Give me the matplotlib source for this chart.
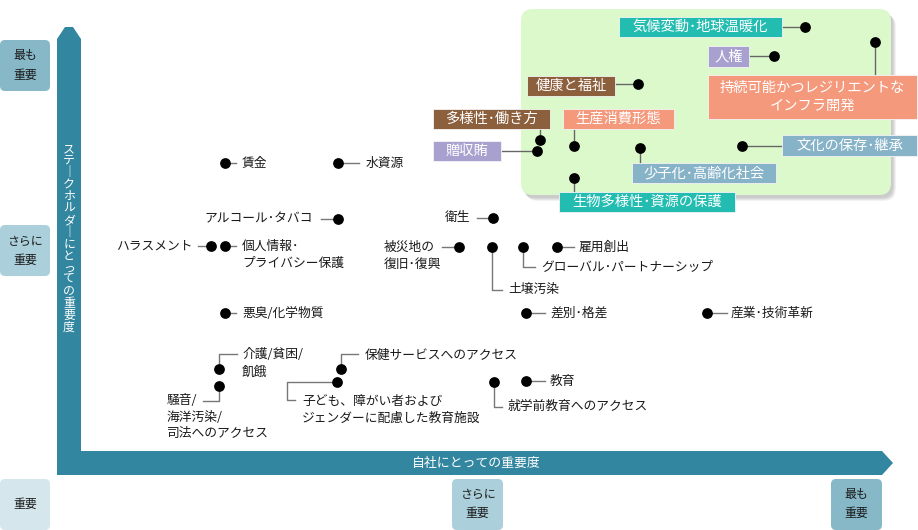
import matplotlib.pyplot as plt
from matplotlib.patches import FancyBboxPatch, Polygon, Rectangle

plt.rcParams['font.family'] = ['Noto Sans CJK JP', 'DejaVu Sans']

# 課題と位置(画像上のピクセル座標で読み取った値)
# company = 自社にとっての重要度(横), stakeholder = ステークホルダーにとっての重要度(縦)
names = [
    "賃金", "水資源", "アルコール･タバコ", "ハラスメント", "個人情報･\nプライバシー保護",
    "衛生", "被災地の\n復旧･復興", "土壌汚染", "グローバル･パートナーシップ", "雇用創出",
    "悪臭/化学物質", "差別･格差", "産業･技術革新", "介護/貧困/\n飢餓",
    "騒音/\n海洋汚染/\n司法へのアクセス", "保健サービスへのアクセス",
    "子ども、障がい者および\nジェンダーに配慮した教育施設", "就学前教育へのアクセス", "教育",
    "気候変動･地球温暖化", "人権", "持続可能かつレジリエントな\nインフラ開発", "健康と福祉",
    "多様性･働き方", "贈収賄", "生産消費形態", "少子化･高齢化社会", "文化の保存･継承",
    "生物多様性･資源の保護",
]
company = [225, 338, 338, 211, 225, 493, 459, 492, 523, 557, 225, 526, 707, 219,
           219, 341, 337, 494, 526, 805, 774, 875, 638, 540, 537, 574, 640, 742, 574]
stakeholder = [163, 163, 219, 246, 246, 218, 247, 247, 247, 247, 313, 313, 313, 369,
               386, 369, 382, 382, 381, 27, 56, 42, 84, 140, 151, 146, 148, 146, 178]
group = [None] * 19 + ["teal", "purple", "salmon", "brown", "brown", "purple",
                       "salmon", "blue", "blue", "teal"]

group_colors = {"teal": "#22bcb0", "purple": "#a8a0cf", "salmon": "#f5997c",
                "brown": "#8c5f3d", "blue": "#87b3c8"}

levels = ["最も\n重要", "さらに\n重要", "重要"]
level_colors = ["#87b8c7", "#abd0db", "#d5e7ed"]

# 通常の項目: 引き出し線(点からの相対), 文字位置, 揃え
plain_layout = {
    "賃金": ([(11, 0)], (17, 0), "left"),
    "水資源": ([(21, 0)], (28, 0), "left"),
    "アルコール･タバコ": ([(-17, 0)], (-25, 0), "right"),
    "ハラスメント": ([(-13, 0)], (-18, 0), "right"),
    "個人情報･\nプライバシー保護": ([(11, 0)], (17, 0), "left"),
    "衛生": ([(-16, 0)], (-23, 0), "right"),
    "被災地の\n復旧･復興": ([(-17, 0)], (-75, 0), "left"),
    "土壌汚染": ([(0, 43), (10, 43)], (16, 42), "left"),
    "グローバル･パートナーシップ": ([(0, 20), (12, 20)], (18, 20), "left"),
    "雇用創出": ([(17, 0)], (22, 0), "left"),
    "悪臭/化学物質": ([(11, 0)], (17, 0), "left"),
    "差別･格差": ([(19, 0)], (24, 0), "left"),
    "産業･技術革新": ([(20, 0)], (24, 0), "left"),
    "介護/貧困/\n飢餓": ([(0, -15), (18, -15)], (23, -14), "left"),
    "騒音/\n海洋汚染/\n司法へのアクセス": ([(0, 15), (-16, 15)], (-52, 15), "left"),
    "保健サービスへのアクセス": ([(0, -15), (17, -15)], (24, -14), "left"),
    "子ども、障がい者および\nジェンダーに配慮した教育施設": ([(-50, 0), (-50, 18), (-42, 18)], (-35, 19), "left"),
    "就学前教育へのアクセス": ([(0, 25), (8, 25)], (14, 24), "left"),
    "教育": ([(19, 0)], (24, 0), "left"),
}

# 色付き項目: 枠(点からの相対 x0, y0, x1, y1), 線の終点
box_layout = {
    "気候変動･地球温暖化": ((-186, -10, -23, 10), (-23, 0)),
    "人権": ((-66, -10, -25, 11), (-25, 0)),
    "持続可能かつレジリエントな\nインフラ開発": ((-167, 33, 42, 77), (0, 33)),
    "健康と福祉": ((-111, -8, -23, 12), (-23, 0)),
    "多様性･働き方": ((-107, -31, 10, -11), (0, -11)),
    "贈収賄": ((-104, -10, -36, 10), (-36, 0)),
    "生産消費形態": ((-11, -37, 100, -17), (0, -17)),
    "少子化･高齢化社会": ((-8, 15, 136, 35), (0, 15)),
    "文化の保存･継承": ((40, -11, 175, 10), (40, 0)),
    "生物多様性･資源の保護": ((-15, 14, 161, 34), (0, 14)),
}

fig = plt.figure(figsize=(9.18, 5.30), dpi=100)
ax = fig.add_axes([0, 0, 1, 1])
ax.set_xlim(0, 918)
ax.set_ylim(530, 0)
ax.axis("off")

teal = "#33869f"
txt = "#1a1a1a"

# 重点領域の背景(影付き)
for i in range(6):
    ax.add_patch(FancyBboxPatch((521 + 2 + i * 0.6, 9 + 3 + i * 0.6), 370, 186,
                                boxstyle="round,pad=0,rounding_size=12",
                                fc="#000000", ec="none", alpha=0.035, zorder=1))
ax.add_patch(FancyBboxPatch((521, 9), 370, 186, boxstyle="round,pad=0,rounding_size=12",
                            fc="#dcf9cb", ec="none", zorder=2))

# 軸の矢印
ax.add_patch(Polygon([(57, 475), (57, 39), (65, 27), (73, 27), (81, 39), (81, 451),
                      (882, 451), (893, 463), (882, 475)], closed=True,
                     fc=teal, ec="none", zorder=2))
ax.text(476, 463, "自社にとっての重要度", color="white", fontsize=9.3,
        ha="center", va="center", zorder=3)
vlabel = "ステークホルダーにとっての重要度"
for i, ch in enumerate(vlabel):
    ch = "｜" if ch == "ー" else ch
    ax.text(69, 143 + 11.9 * (i + 0.5), ch, color="white", fontsize=8.6,
            ha="center", va="center", zorder=3,
            fontweight="bold" if ch == "｜" else "normal")

# 目盛りの箱
left_y = [40, 225, 479]
bottom_x = [831, 452]
for lab, col, y0 in zip(levels, level_colors, left_y):
    ax.add_patch(FancyBboxPatch((0, y0), 50, 51, boxstyle="round,pad=0,rounding_size=5",
                                fc=col, ec="none", zorder=2))
    ax.text(25, y0 + 25.5, lab, fontsize=8.6, color=txt, ha="center", va="center",
            linespacing=1.6, zorder=3)
for lab, col, x0 in zip(levels[:2], level_colors[:2], bottom_x):
    ax.add_patch(FancyBboxPatch((x0, 479), 51, 51, boxstyle="round,pad=0,rounding_size=5",
                                fc=col, ec="none", zorder=2))
    ax.text(x0 + 25.5, 504, lab, fontsize=8.6, color=txt, ha="center", va="center",
            linespacing=1.6, zorder=3)


def draw_lines(x, y, text, ha, step, **kw):
    lines = text.split("\n")
    for k, line in enumerate(lines):
        ax.text(x, y + k * step, line, ha=ha, va="center", **kw)


for name, cx, cy, g in zip(names, company, stakeholder, group):
    if g is None:
        route, (tx, ty), ha = plain_layout[name]
        xs = [cx] + [cx + dx for dx, dy in route]
        ys = [cy] + [cy + dy for dx, dy in route]
        ax.plot(xs, ys, color="#777777", lw=1, zorder=3)
        step = 16.5 if name.count("\n") > 1 else 17.5
        draw_lines(cx + tx, cy + ty, name, ha, step, fontsize=9.2, color=txt, zorder=4)
    else:
        (x0, y0, x1, y1), (ex, ey) = box_layout[name]
        ax.plot([cx, cx + ex], [cy, cy + ey], color="#666666", lw=1, zorder=3)
        ax.add_patch(Rectangle((cx + x0, cy + y0), x1 - x0, y1 - y0,
                               fc=group_colors[g], ec="#f4f4f4", lw=0.6, zorder=4))
        nl = name.count("\n")
        ymid = cy + (y0 + y1) / 2 - nl * 9
        draw_lines(cx + (x0 + x1) / 2, ymid, name, "center", 18,
                   fontsize=10.3, color="white", zorder=5)

ax.scatter(company, stakeholder, s=60, color="black", zorder=6, linewidths=0)

fig.savefig("out.png", dpi=100)
